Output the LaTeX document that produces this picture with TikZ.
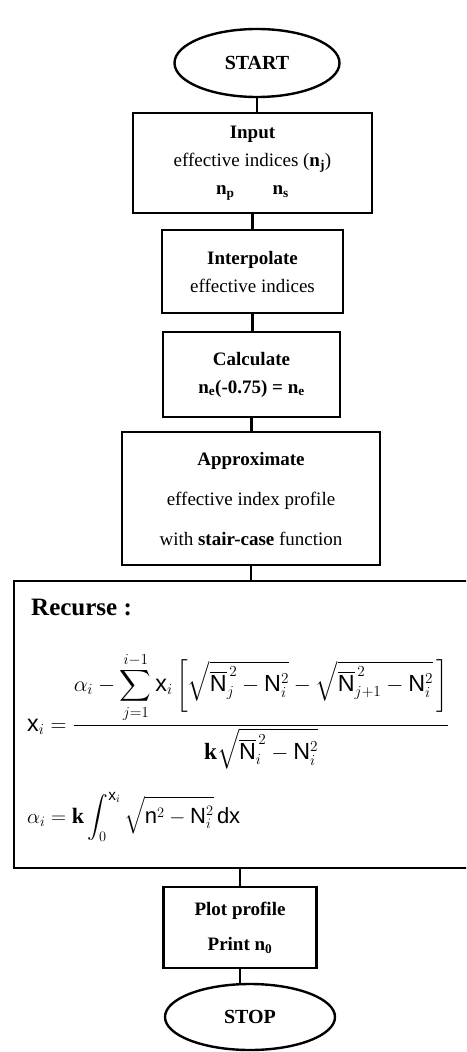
\documentclass[tikz,border=0pt]{standalone}
\usepackage{amsmath}
\usepackage{fontspec}
\setmainfont{Liberation Serif}
\setsansfont{Liberation Sans}
\usetikzlibrary{shapes.geometric}

\tikzset{
  flowline/.style={line width=2.4pt},
  term/.style={ellipse, draw, line width=2.4pt, inner sep=0pt, font=\fontsize{20}{24}\selectfont\bfseries},
  procbox/.style={rectangle, draw, line width=2.4pt, inner sep=0pt, align=center, font=\fontsize{19}{28}\selectfont},
  formula/.style={anchor=base west, inner sep=0pt, font=\fontsize{22}{26}\selectfont},
}

\begin{document}
\begin{tikzpicture}[x=1pt,y=-1pt]

% (0,0) = upper left corner of the page, y grows downwards
\fill[white] (0,0) rectangle (466,1052);
\useasboundingbox (0,0) rectangle (466,1052);
\clip (0,0) rectangle (466,1052);

% ---------- Start and input ----------
\node[term, minimum width=165pt, minimum height=68pt] (start) at (257,63) {START};
\node[procbox, minimum width=239pt, minimum height=100pt] (input) at (252.5,163)
  {\textbf{Input}\\ effective indices (\textbf{n}$_{\mathbf{j}}$)\\ \textbf{n}$_{\mathbf{p}}$\qquad\textbf{n}$_{\mathbf{s}}$};

% ---------- Interpolate and calculate ----------
\node[procbox, minimum width=181pt, minimum height=83pt] (interp) at (252.5,271.5)
  {\textbf{Interpolate}\\ effective indices};
\node[procbox, minimum width=177pt, minimum height=85pt] (calc) at (251.5,374.5)
  {\textbf{Calculate}\\ \textbf{n}$_{\mathbf{e}}$\textbf{(-0.75) = n}$_{\mathbf{e}}$};

% ---------- Approximate ----------
\node[procbox, minimum width=258pt, minimum height=133pt] (approx) at (251,498.5)
  {\textbf{Approximate}\\[12pt] effective index profile\\[12pt] with \textbf{stair-case} function};

% ---------- Recurse (box runs out of the page on the right) ----------
\node[procbox, minimum width=520pt, minimum height=287pt, anchor=north west] (recurse) at (13,580) {};
\node[anchor=west, inner sep=0pt, font=\fontsize{25}{30}\selectfont\bfseries] (rectitle) at (31,607) {Recurse :};
\node[formula] (xform) at (27,731)
  {\scalebox{1.06}{$\displaystyle \mathsf{x}_i = \frac{\displaystyle \alpha_i - \sum_{j=1}^{i-1}\mathsf{x}_i\left[\sqrt{\overline{\mathsf{N}}_j^{\,2}-\mathsf{N}_i^2}-\sqrt{\overline{\mathsf{N}}_{j+1}^{\,2}-\mathsf{N}_i^2}\,\right]}{\mathbf{k}\sqrt{\overline{\mathsf{N}}_i^{\,2}-\mathsf{N}_i^2}}$}};
\node[formula] (aform) at (27,823)
  {$\displaystyle \alpha_i = \mathbf{k}\int_0^{\mathsf{x}_i}\sqrt{\mathsf{n}^2-\mathsf{N}_i^2}\,\mathsf{dx}$};

% ---------- Output and stop ----------
\node[procbox, minimum width=153pt, minimum height=81pt, font=\fontsize{19}{35}\selectfont\bfseries] (plot) at (240,927.5)
  {Plot profile\\ Print n$_{\mathbf{0}}$};
\node[term, minimum width=170pt, minimum height=66pt] (stop) at (250,1017) {STOP};

% ---------- Connectors ----------
\draw[flowline] (start.south) -- (start.south |- input.north);
\draw[flowline] (input.south) -- (input.south |- interp.north);
\draw[flowline] (interp.south) -- (interp.south |- calc.north);
\draw[flowline] (calc.south) -- (calc.south |- approx.north);
\draw[flowline] (approx.south) -- (approx.south |- recurse.north);
\draw[flowline] (plot.north |- recurse.south) -- (plot.north);
\draw[flowline] (plot.south) -- (plot.south |- stop.north);

\end{tikzpicture}
\end{document}
